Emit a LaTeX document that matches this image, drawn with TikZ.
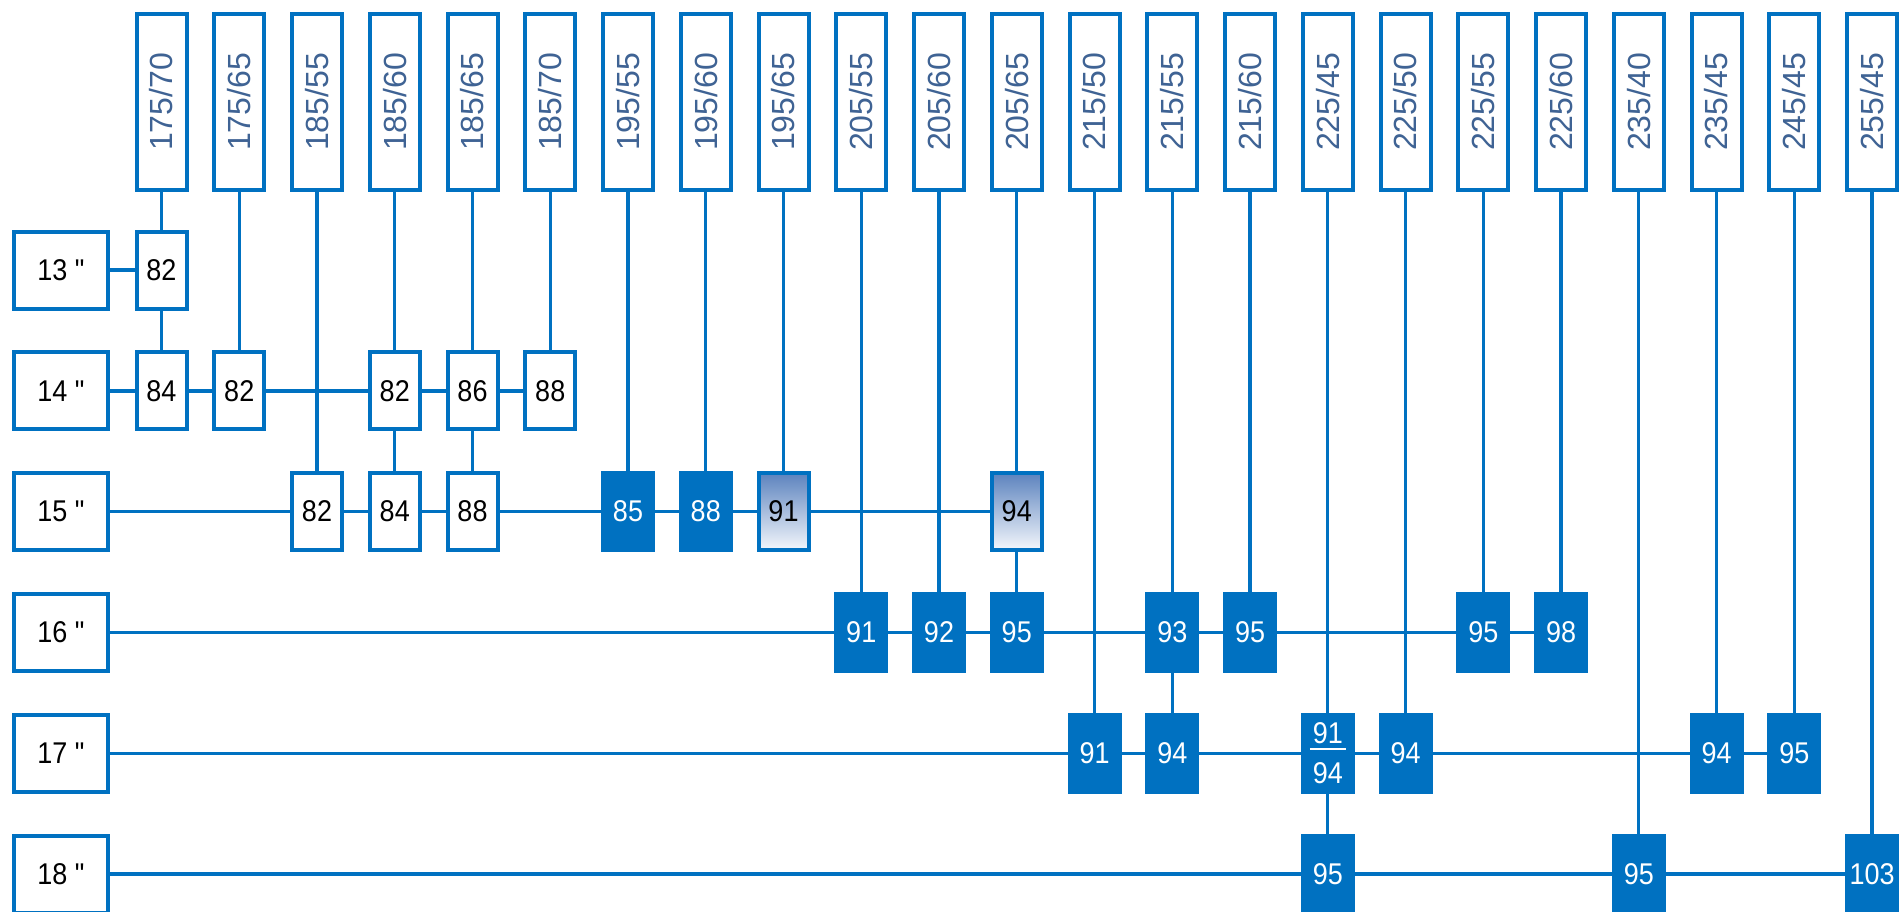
\documentclass[tikz,border=0pt]{standalone}
\usepackage{fontspec}
\setmainfont{Liberation Sans}
\newfontfamily\condfont[FakeStretch=0.9]{Liberation Sans}
\usetikzlibrary{backgrounds}
\definecolor{tblue}{RGB}{0,113,193}
\definecolor{htext}{RGB}{63,99,148}
\definecolor{gtop}{RGB}{92,131,190}
\definecolor{gbot}{RGB}{244,247,252}
\newcommand{\fracbar}[1]{\setbox0=\hbox{#1}\rlap{\kern-1.5pt\rule[-3pt]{\dimexpr\wd0+3pt\relax}{0.9pt}}\box0}
\newcommand{\V}[4]{\node[#1] (n#2c#3) at ({161.5+77.75*#3},{270+120.8*#2}) {#4};}
\begin{document}
\begin{tikzpicture}[x=0.5pt,y=-0.5pt,
  hdr/.style={draw=tblue, line width=2pt, fill=white, rotate=90,
    minimum width=88pt, minimum height=25pt, inner sep=0pt,
    text=htext, font=\fontsize{16}{19}\selectfont},
  rowbox/.style={draw=tblue, line width=2pt, fill=white,
    minimum width=47pt, minimum height=38.5pt, inner sep=0pt,
    font=\condfont\fontsize{15}{18}\selectfont},
  vbox/.style={draw=tblue, line width=2pt, fill=white, align=center,
    minimum width=25pt, minimum height=38.5pt, inner sep=0pt,
    font=\condfont\fontsize{15}{18}\selectfont},
  vfill/.style={vbox, fill=tblue, text=white},
  vgrad/.style={vbox, top color=gtop, bottom color=gbot},
  conn/.style={draw=tblue, line width=1.7pt}]
\useasboundingbox (0,0) rectangle (1899,911);
% headers
\foreach \w/\a [count=\i from 0] in {175/70,175/65,185/55,185/60,185/65,185/70,195/55,195/60,195/65,205/55,205/60,205/65,215/50,215/55,215/60,225/45,225/50,225/55,225/60,235/40,235/45,245/45,255/45}
  \node[hdr] (h\i) at ({161.5+77.75*\i},102) {\w/\a};
% row labels
\foreach \lab [count=\j from 0] in {13,14,15,16,17,18}
  \node[rowbox] (r\j) at (61,{270+120.8*\j}) {\lab{} "};
% row 13
\V{vbox}{0}{0}{82}
% row 14
\V{vbox}{1}{0}{84}
\V{vbox}{1}{1}{82}
\V{vbox}{1}{3}{82}
\V{vbox}{1}{4}{86}
\V{vbox}{1}{5}{88}
% row 15
\V{vbox}{2}{2}{82}
\V{vbox}{2}{3}{84}
\V{vbox}{2}{4}{88}
\V{vfill}{2}{6}{85}
\V{vfill}{2}{7}{88}
\V{vgrad}{2}{8}{91}
\V{vgrad}{2}{11}{94}
% row 16
\V{vfill}{3}{9}{91}
\V{vfill}{3}{10}{92}
\V{vfill}{3}{11}{95}
\V{vfill}{3}{13}{93}
\V{vfill}{3}{14}{95}
\V{vfill}{3}{17}{95}
\V{vfill}{3}{18}{98}
% row 17
\V{vfill}{4}{12}{91}
\V{vfill}{4}{13}{94}
\V{vfill}{4}{15}{\fracbar{91}\\[2pt]94}
\V{vfill}{4}{16}{94}
\V{vfill}{4}{20}{94}
\V{vfill}{4}{21}{95}
% row 18
\V{vfill}{5}{15}{95}
\V{vfill}{5}{19}{95}
\V{vfill}{5}{22}{103}
\begin{scope}[on background layer]
  \fill[white] (0,0) rectangle (1899,911);
  % rows
  \draw[conn] (r0.center) -- (n0c0.center);
  \draw[conn] (r1.center) -- (n1c5.center);
  \draw[conn] (r2.center) -- (n2c11.center);
  \draw[conn] (r3.center) -- (n3c18.center);
  \draw[conn] (r4.center) -- (n4c21.center);
  \draw[conn] (r5.center) -- (n5c22.center);
  % columns
  \draw[conn] (h0.center) -- (n1c0.center);
  \draw[conn] (h1.center) -- (n1c1.center);
  \draw[conn] (h2.center) -- (n2c2.center);
  \draw[conn] (h3.center) -- (n2c3.center);
  \draw[conn] (h4.center) -- (n2c4.center);
  \draw[conn] (h5.center) -- (n1c5.center);
  \draw[conn] (h6.center) -- (n2c6.center);
  \draw[conn] (h7.center) -- (n2c7.center);
  \draw[conn] (h8.center) -- (n2c8.center);
  \draw[conn] (h9.center) -- (n3c9.center);
  \draw[conn] (h10.center) -- (n3c10.center);
  \draw[conn] (h11.center) -- (n3c11.center);
  \draw[conn] (h12.center) -- (n4c12.center);
  \draw[conn] (h13.center) -- (n4c13.center);
  \draw[conn] (h14.center) -- (n3c14.center);
  \draw[conn] (h15.center) -- (n5c15.center);
  \draw[conn] (h16.center) -- (n4c16.center);
  \draw[conn] (h17.center) -- (n3c17.center);
  \draw[conn] (h18.center) -- (n3c18.center);
  \draw[conn] (h19.center) -- (n5c19.center);
  \draw[conn] (h20.center) -- (n4c20.center);
  \draw[conn] (h21.center) -- (n4c21.center);
  \draw[conn] (h22.center) -- (n5c22.center);
\end{scope}
\end{tikzpicture}
\end{document}
